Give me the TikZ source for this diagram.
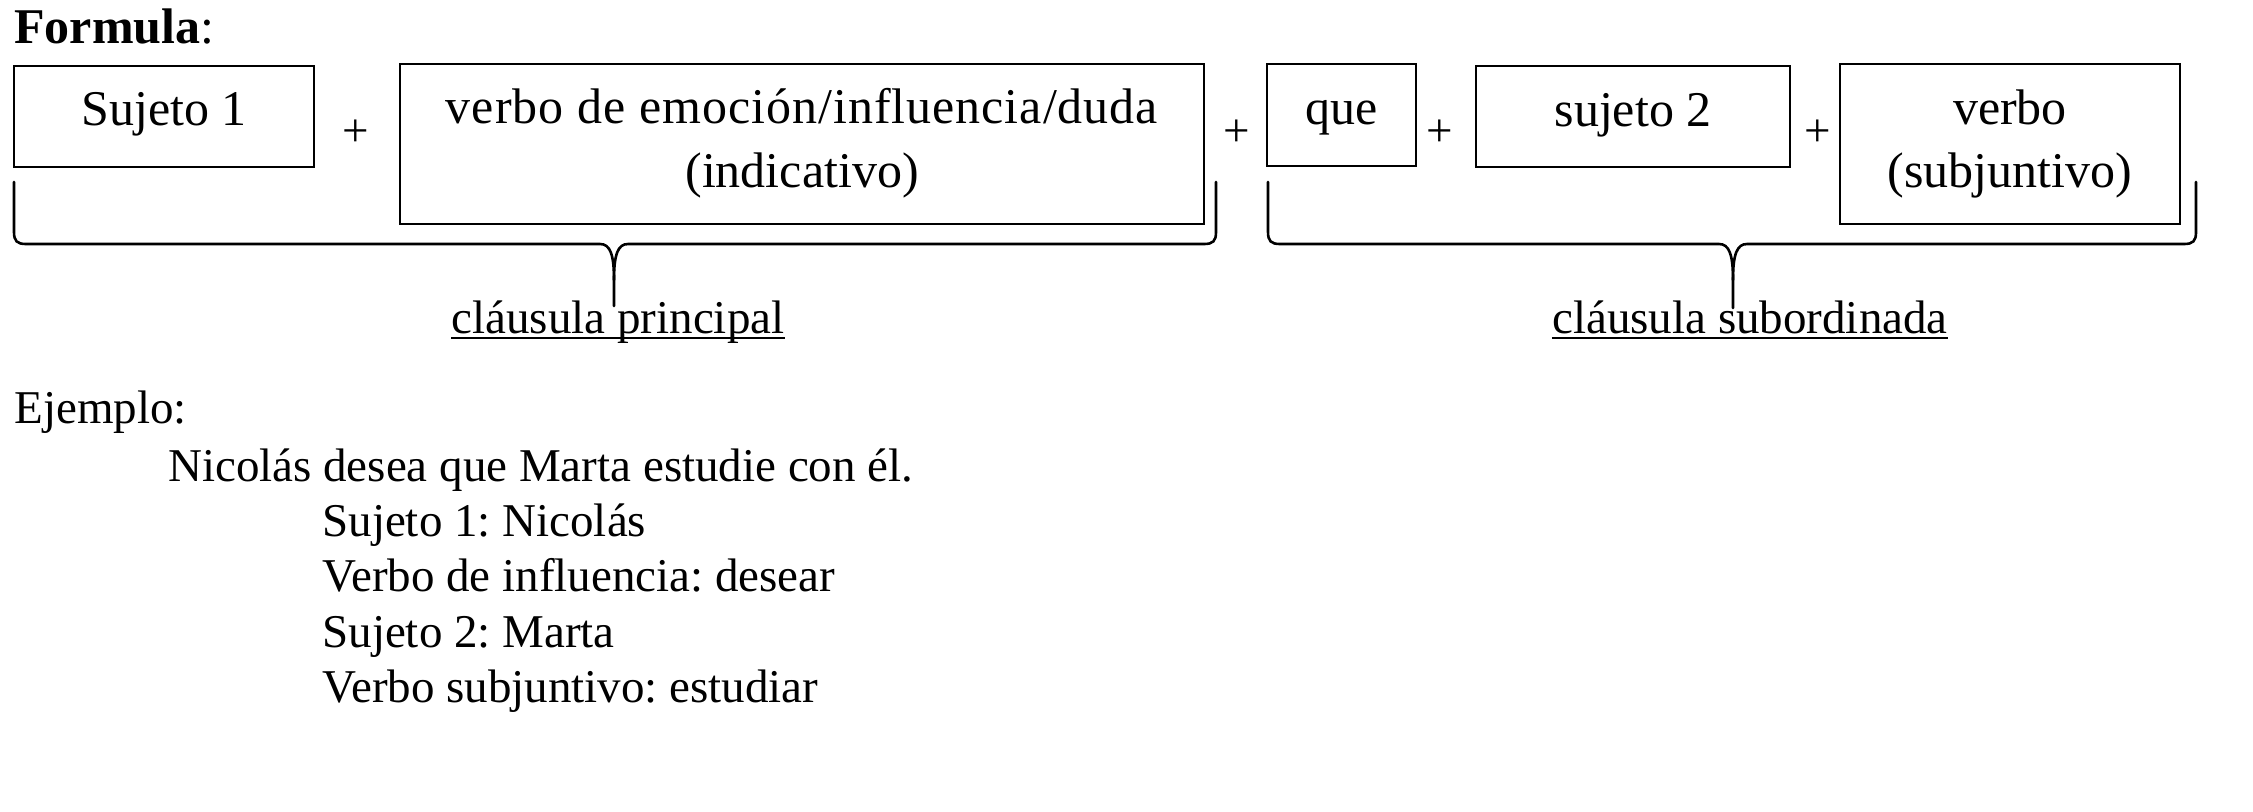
\documentclass[tikz,border=0pt]{standalone}
\usepackage{fontspec}
\setmainfont{Liberation Serif}
\frenchspacing
\begin{document}
\begin{tikzpicture}[x=0.5pt,y=-0.5pt]
\tikzset{
  txt/.style={font=\fontsize{23.5}{30}\selectfont, inner sep=0pt},
  boxtxt/.style={font=\fontsize{25}{30}\selectfont, inner sep=0pt, anchor=base},
  boxframe/.style={draw, line width=1.35pt, inner sep=0pt},
  bracepath/.style={line width=1.3pt, line join=round, line cap=round},
  uline/.style={line width=0.8pt},
}
\useasboundingbox (0,0) rectangle (2253,811);
% title
\node[txt, font=\fontsize{25}{30}\selectfont, anchor=base west] (title) at (14,43) {\textbf{Formula}:};
% boxes
\node[boxframe, minimum width=150pt, minimum height=50.5pt] (b1) at (164,116.5) {};
\node[boxframe, minimum width=402pt, minimum height=80pt] (b2) at (802,144) {};
\node[boxframe, minimum width=74.5pt, minimum height=51pt] (b3) at (1341.5,115) {};
\node[boxframe, minimum width=157pt, minimum height=50.5pt] (b4) at (1633,116.5) {};
\node[boxframe, minimum width=170pt, minimum height=80pt] (b5) at (2010,144) {};
% box texts
\node[boxtxt] (t1) at (164,125) {Sujeto 1};
\node[boxtxt] (t2a) at (802,123) {\addfontfeature{LetterSpace=2}verbo de emoción/influencia/duda};
\node[boxtxt] (t2b) at (802,187) {(indicativo)};
\node[boxtxt] (t3) at (1341.5,124) {que};
\node[boxtxt] (t4) at (1633,126) {sujeto 2};
\node[boxtxt] (t5a) at (2010,124) {verbo};
\node[boxtxt] (t5b) at (2010,187) {(subjuntivo)};
% plus signs
\node[txt] (p1) at (356,133) {+};
\node[txt] (p2) at (1237,133) {+};
\node[txt] (p3) at (1440,133) {+};
\node[txt] (p4) at (1818,133) {+};
% left brace
\draw[bracepath] (14,182) -- (14,232) .. controls (14,241) and (17,244) .. (26,244) -- (600,244)
  .. controls (610,244) and (614,254) .. (614,280) -- (614,306);
\draw[bracepath] (614,280) .. controls (614,254) and (618,244) .. (628,244) -- (1204,244)
  .. controls (1213,244) and (1216,241) .. (1216,232) -- (1216,182);
% right brace
\draw[bracepath] (1268,182) -- (1268,232) .. controls (1268,241) and (1271,244) .. (1280,244) -- (1719,244)
  .. controls (1729,244) and (1733,254) .. (1733,280) -- (1733,308);
\draw[bracepath] (1733,280) .. controls (1733,254) and (1737,244) .. (1747,244) -- (2184,244)
  .. controls (2193,244) and (2196,241) .. (2196,232) -- (2196,182);
% labels
\node[txt, anchor=base] (cp) at (618,333) {cláusula principal};
\draw[uline] ([yshift=-2.6pt]cp.base west) -- ([yshift=-2.6pt]cp.base east);
\node[txt, anchor=base] (cs) at (1750,333) {cláusula subordinada};
\draw[uline] ([yshift=-2.6pt]cs.base west) -- ([yshift=-2.6pt]cs.base east);
% example
\node[txt, anchor=base west] (ej) at (14,423) {Ejemplo:};
\node[txt, anchor=base west] (n1) at (168,481) {Nicolás};
\node[txt, anchor=base west] (n2) at (323,481) {desea que Marta estudie con él.};
\node[txt, anchor=base west] (e1) at (322,536) {Sujeto 1: Nicolás};
\node[txt, anchor=base west] (e2) at (322,591) {Verbo de influencia: desear};
\node[txt, anchor=base west] (e3) at (322,647) {Sujeto 2: Marta};
\node[txt, anchor=base west] (e4) at (322,702) {Verbo subjuntivo: estudiar};
\end{tikzpicture}
\end{document}
